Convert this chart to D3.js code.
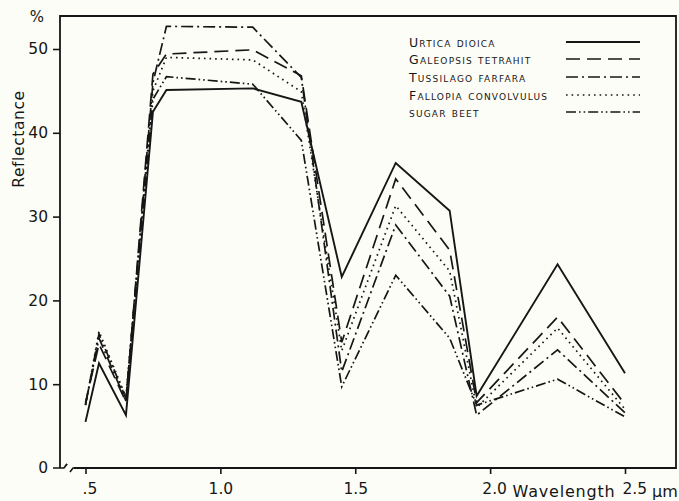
<!DOCTYPE html>
<html><head><meta charset="utf-8">
<script src="https://cdn.jsdelivr.net/npm/d3@7"></script>
<style>
html,body{margin:0;padding:0;background:#fdfdf8;}
svg{display:block;}
text{font-family:"DejaVu Sans","Liberation Sans",sans-serif;fill:#161616;}
</style></head>
<body>
<script>
const wavelengths = [0.5, 0.55, 0.65, 0.75, 0.8, 1.12, 1.3, 1.45, 1.65, 1.85, 1.95, 2.25, 2.5];
const urtica    = [5.5, 12.5, 6.3, 42.5, 45.1, 45.3, 43.7, 22.8, 36.4, 30.7, 8.6, 24.3, 11.3];
const galeopsis = [7.8, 14.8, 7.9, 47.0, 49.4, 49.9, 46.8, 15.0, 34.5, 26.0, 7.8, 18.0, 7.6];
const tussilago = [7.6, 15.5, 8.0, 46.0, 52.7, 52.6, 46.6, 11.5, 29.0, 20.5, 6.3, 14.1, 6.6];
const fallopia  = [7.5, 16.3, 8.5, 45.0, 49.0, 48.7, 44.9, 14.0, 31.3, 23.5, 7.2, 16.7, 7.0];
const sugarBeet = [7.5, 16.0, 8.3, 44.0, 46.7, 45.8, 39.1, 9.7, 23.0, 15.5, 7.5, 10.6, 6.1];
const seriesNames = ["Urtica dioica", "Galeopsis tetrahit", "Tussilago farfara", "Fallopia convolvulus", "sugar beet"];
const xTicks = [0.5, 1.0, 1.5, 2.0, 2.5];
const xTickLabels = [".5", "1.0", "1.5", "2.0", "2.5"];
const yTicks = [0, 10, 20, 30, 40, 50];

const W = 679, H = 501;
const svg = d3.select("body").append("svg").attr("width", W).attr("height", H);
const ink = "#161616";

const x = d3.scaleLinear().domain([0.5, 2.5]).range([85.5, 625]);
const y = d3.scaleLinear().domain([0, 50]).range([468, 49]);

const dashes = ["none", "14,7", "12,4,2,4", "1.6,4", "10,3,1.6,3,1.6,3"];
const allSeries = [urtica, galeopsis, tussilago, fallopia, sugarBeet];

// frame
svg.append("path").attr("d", `M60,468 V16 H676 V468 H74`).attr("fill","none").attr("stroke",ink).attr("stroke-width",1.8);
// axis break
svg.append("path").attr("d","M53,468 H64 L67,464").attr("fill","none").attr("stroke",ink).attr("stroke-width",1.6);
svg.append("rect").attr("x",64.5).attr("y",466).attr("width",6).attr("height",4).attr("fill","#fdfdf8");
svg.append("path").attr("d","M64,468 L67,464").attr("fill","none").attr("stroke",ink).attr("stroke-width",1.6);
svg.append("path").attr("d","M70,472 L73,468 H76").attr("fill","none").attr("stroke",ink).attr("stroke-width",1.6);

// y axis
const yAxis = d3.axisLeft(y).tickValues(yTicks).tickSize(7).tickPadding(5).tickFormat(d3.format("d"));
const gy = svg.append("g").attr("transform","translate(60,0)").call(yAxis);
gy.select(".domain").remove();
gy.selectAll("line").attr("stroke",ink).attr("stroke-width",1.6);
gy.selectAll("text").style("font-size","15.5px").attr("fill",ink);
gy.selectAll(".tick").filter(d=>d===0).select("line").remove();

// x axis
const xAxis = d3.axisBottom(x).tickValues(xTicks).tickSize(6).tickPadding(9)
  .tickFormat((d,i)=>xTickLabels[i]);
const gx = svg.append("g").attr("transform","translate(0,468)").call(xAxis);
gx.select(".domain").remove();
gx.selectAll("line").attr("stroke",ink).attr("stroke-width",1.6);
gx.selectAll("text").style("font-size","15.5px").attr("fill",ink);
gx.selectAll(".tick").filter(d=>d===2.5).select("text").attr("text-anchor","start").attr("dx",-3);
gx.selectAll(".tick").filter(d=>d===0.5).select("text").attr("dx",4);
gx.selectAll(".tick").filter(d=>d===2.0).select("text").attr("dx",4);

svg.append("text").attr("x",564).attr("y",497).attr("text-anchor","middle").style("font-size","16px").style("letter-spacing","0.8px").text("Wavelength");
svg.append("text").attr("x",665).attr("y",497).attr("text-anchor","middle").style("font-size","16px").text("µm");
svg.append("text").attr("x",37).attr("y",22).attr("text-anchor","middle").style("font-size","15px").text("%");
svg.append("text").attr("transform","translate(24,139) rotate(-90)").attr("text-anchor","middle").style("font-size","15.5px").style("letter-spacing","0.6px").text("Reflectance");

// lines
const line = d3.line().x((d,i)=>x(wavelengths[i])).y(d=>y(d));
allSeries.forEach((s,k)=>{
  svg.append("path").datum(s).attr("d",line).attr("fill","none").attr("stroke",ink)
    .attr("stroke-width", k===0?1.9:1.7).attr("stroke-dasharray",dashes[k])
    .attr("stroke-linejoin","miter");
});

// legend
const legY = [42, 59, 77, 95, 112];
seriesNames.forEach((n,k)=>{
  svg.append("text").attr("x",409).attr("y",legY[k]+4.5)
    .style("font-size","12.5px").style("font-variant","small-caps").style("letter-spacing","1.2px").text(n);
  svg.append("line").attr("x1",566).attr("x2",640).attr("y1",legY[k]).attr("y2",legY[k])
    .attr("stroke",ink).attr("stroke-width",k===0?1.9:1.7).attr("stroke-dasharray",dashes[k]);
});
</script>
</body></html>
